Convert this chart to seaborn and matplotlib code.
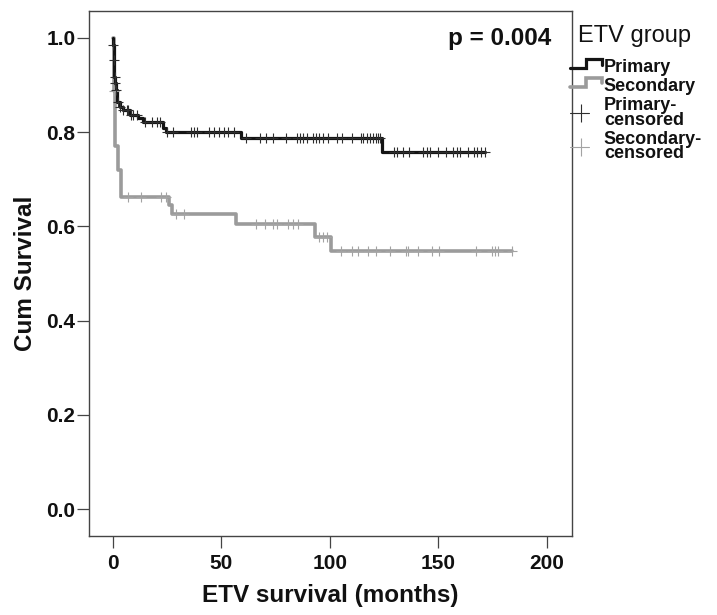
import numpy as np
import pandas as pd
import matplotlib
matplotlib.use("Agg")
import matplotlib.pyplot as plt
import seaborn as sns
from matplotlib.legend_handler import HandlerBase
from matplotlib.lines import Line2D

# ---------------- data ----------------
groups = ["Primary", "Secondary"]

primary_event_times = [0.1, 0.3, 0.6, 0.9, 1.2, 1.8, 3.0, 4.5, 8.0, 11.5, 13.8,
                       23.0, 24.2, 58.8, 123.8]
primary_surv = [0.985, 0.953, 0.917, 0.903, 0.889, 0.864, 0.854, 0.847, 0.836,
                0.829, 0.822, 0.808, 0.800, 0.788, 0.758]
primary_censor_times = [0.15, 0.35, 0.8, 1.0, 1.4, 2.2, 3.2, 4.7, 6.3, 7.1, 8.3,
                        9.4, 10.9, 14.7, 17.8, 20.1, 21.7, 24.9, 27.6, 35.8, 37.1,
                        38.8, 44.4, 46.5, 49.0, 51.2, 53.2, 55.8, 61.3, 67.7, 70.5,
                        73.9, 79.7, 84.7, 86.2, 87.7, 89.3, 92.3, 93.5, 95.1, 96.9,
                        99.2, 103.1, 105.4, 110.0, 114.3, 115.3, 116.9, 118.4, 119.9,
                        121.2, 122.3, 123.0, 129.5, 130.7, 133.8, 136.5, 143.0, 144.8,
                        146.1, 149.9, 153.5, 156.8, 158.7, 159.9, 163.7, 166.4, 167.9,
                        169.4, 171.4]

secondary_event_times = [0.3, 0.8, 2.3, 3.5, 26.0, 27.0, 56.7, 93.1, 100.3]
secondary_surv = [0.886, 0.770, 0.720, 0.663, 0.645, 0.626, 0.605, 0.577, 0.548]
secondary_censor_times = [0.5, 7.1, 12.8, 22.0, 24.3, 29.0, 32.7, 65.9, 70.2, 73.6,
                          75.4, 80.5, 82.8, 85.4, 95.1, 96.9, 98.8, 104.9, 110.0,
                          113.0, 117.4, 121.2, 127.6, 134.9, 136.1, 140.7, 147.1,
                          150.4, 167.3, 174.8, 176.0, 177.3, 183.7]

x_ticks = [0, 50, 100, 150, 200]
y_ticks = [0.0, 0.2, 0.4, 0.6, 0.8, 1.0]
p_value_text = "p = 0.004"
legend_title = "ETV group"
legend_labels = ["Primary", "Secondary", "Primary-\ncensored", "Secondary-\ncensored"]

line_colors = {"Primary": "#141414", "Secondary": "#9b9b9b"}
censor_colors = {"Primary": "#2e2e2e", "Secondary": "#a3a3a3"}
line_widths = {"Primary": 2.3, "Secondary": 2.6}

# ---------------- build tables ----------------
def step_table(group, ev_t, ev_s, last_t):
    t = [0.0] + list(ev_t) + [last_t]
    s = [1.0] + list(ev_s) + [ev_s[-1]]
    return pd.DataFrame({"time": t, "survival": s, "group": group})

def censor_table(group, ev_t, ev_s, c_t):
    t_arr = np.array([0.0] + list(ev_t))
    s_arr = np.array([1.0] + list(ev_s))
    idx = np.searchsorted(t_arr, np.array(c_t), side="right") - 1
    return pd.DataFrame({"time": c_t, "survival": s_arr[idx], "group": group})

curves = {
    "Primary": step_table("Primary", primary_event_times, primary_surv, max(primary_censor_times)),
    "Secondary": step_table("Secondary", secondary_event_times, secondary_surv, max(secondary_censor_times)),
}
censors = {
    "Primary": censor_table("Primary", primary_event_times, primary_surv, primary_censor_times),
    "Secondary": censor_table("Secondary", secondary_event_times, secondary_surv, secondary_censor_times),
}

# ---------------- figure ----------------
sns.set_theme(style="white")
plt.rcParams["font.family"] = ["Liberation Sans", "DejaVu Sans"]

W, H = 717, 615
fig = plt.figure(figsize=(W / 100, H / 100), dpi=100)
ax = fig.add_axes([88.7 / W, 1 - 536 / H, (571.7 - 88.7) / W, (536 - 11.3) / H])

for g in ["Secondary", "Primary"]:
    sns.lineplot(data=curves[g], x="time", y="survival", color=line_colors[g],
                 linewidth=line_widths[g], drawstyle="steps-post", estimator=None,
                 sort=False, ax=ax, legend=False)
for g in ["Secondary", "Primary"]:
    sns.scatterplot(data=censors[g], x="time", y="survival", marker="+", s=45,
                    color=censor_colors[g], linewidth=0.8, ax=ax, legend=False, zorder=3)

ax.set_xlim(-11.2, 211.4)
ax.set_ylim(-0.0566, 1.056)
ax.set_xticks(x_ticks)
ax.set_xticklabels([str(v) for v in x_ticks])
ax.set_yticks(y_ticks)
ax.set_yticklabels([f"{v:.1f}" for v in y_ticks])
for lab in ax.get_xticklabels() + ax.get_yticklabels():
    lab.set_fontweight("bold")
    lab.set_fontsize(15)
    lab.set_color("#111111")
ax.tick_params(axis="both", direction="out", length=8.8, width=0.9, color="#444444",
               bottom=True, left=True)
ax.tick_params(axis="x", pad=4.5)
ax.tick_params(axis="y", pad=0.8)
for sp in ax.spines.values():
    sp.set_color("#444444")
    sp.set_linewidth(1.0)

ax.set_xlabel("ETV survival (months)", fontsize=17.5, fontweight="bold", color="#111111")
ax.set_ylabel("Cum Survival", fontsize=17.5, fontweight="bold", color="#111111")
ax.xaxis.set_label_coords(0.5, -0.0915)
ax.yaxis.set_label_coords(-0.108, 0.5)

ax.text(0.9586, 1 - (45 - 11.3) / 524.7, p_value_text, transform=ax.transAxes,
        ha="right", va="baseline", fontsize=17.5, fontweight="bold", color="#111111")

# ---------------- legend ----------------
class StepHandler(HandlerBase):
    def create_artists(self, legend, orig_handle, xdescent, ydescent, width, height,
                       fontsize, trans):
        x0 = -xdescent
        y0 = -ydescent
        xs = [x0, x0 + 0.5 * width, x0 + 0.5 * width, x0 + width, x0 + width]
        ys = [y0 + 0.37 * height, y0 + 0.37 * height, y0 + 1.05 * height,
              y0 + 1.05 * height, y0 + 0.63 * height]
        ln = Line2D(xs, ys, color=orig_handle.get_color(),
                    linewidth=orig_handle.get_linewidth(), solid_joinstyle="miter")
        ln.set_transform(trans)
        return [ln]

class CensorHandler(HandlerBase):
    def create_artists(self, legend, orig_handle, xdescent, ydescent, width, height,
                       fontsize, trans):
        x0 = -xdescent
        ym = -ydescent + 0.5 * height
        ln = Line2D([x0, x0 + 0.58 * width], [ym, ym], color=orig_handle.get_color(),
                    linewidth=0.8)
        mk = Line2D([x0 + 0.34 * width], [ym], marker="|", markersize=13,
                    markeredgewidth=0.8, color=orig_handle.get_color(), linestyle="none")
        ln.set_transform(trans)
        mk.set_transform(trans)
        return [ln, mk]

class StepProxy(Line2D):
    pass

class CensorProxy(Line2D):
    pass

handles = [
    StepProxy([], [], color=line_colors["Primary"], linewidth=line_widths["Primary"]),
    StepProxy([], [], color=line_colors["Secondary"], linewidth=line_widths["Secondary"]),
    CensorProxy([], [], color=censor_colors["Primary"]),
    CensorProxy([], [], color=censor_colors["Secondary"]),
]
leg = fig.legend(handles=handles, labels=legend_labels,
                 handler_map={StepProxy: StepHandler(), CensorProxy: CensorHandler()},
                 loc="upper left", bbox_to_anchor=(570 / W, 1 - 59.5 / H),
                 frameon=False, prop={"weight": "bold", "size": 13},
                 handlelength=1.78, handletextpad=0.1, labelspacing=0.1,
                 borderpad=0, borderaxespad=0)
for t in leg.get_texts():
    t.set_linespacing(0.82)
    t.set_color("#111111")

fig.text(578 / W, 1 - 41.7 / H, legend_title, ha="left", va="baseline",
         fontsize=17, color="#111111")

fig.savefig("out.png", dpi=100)
